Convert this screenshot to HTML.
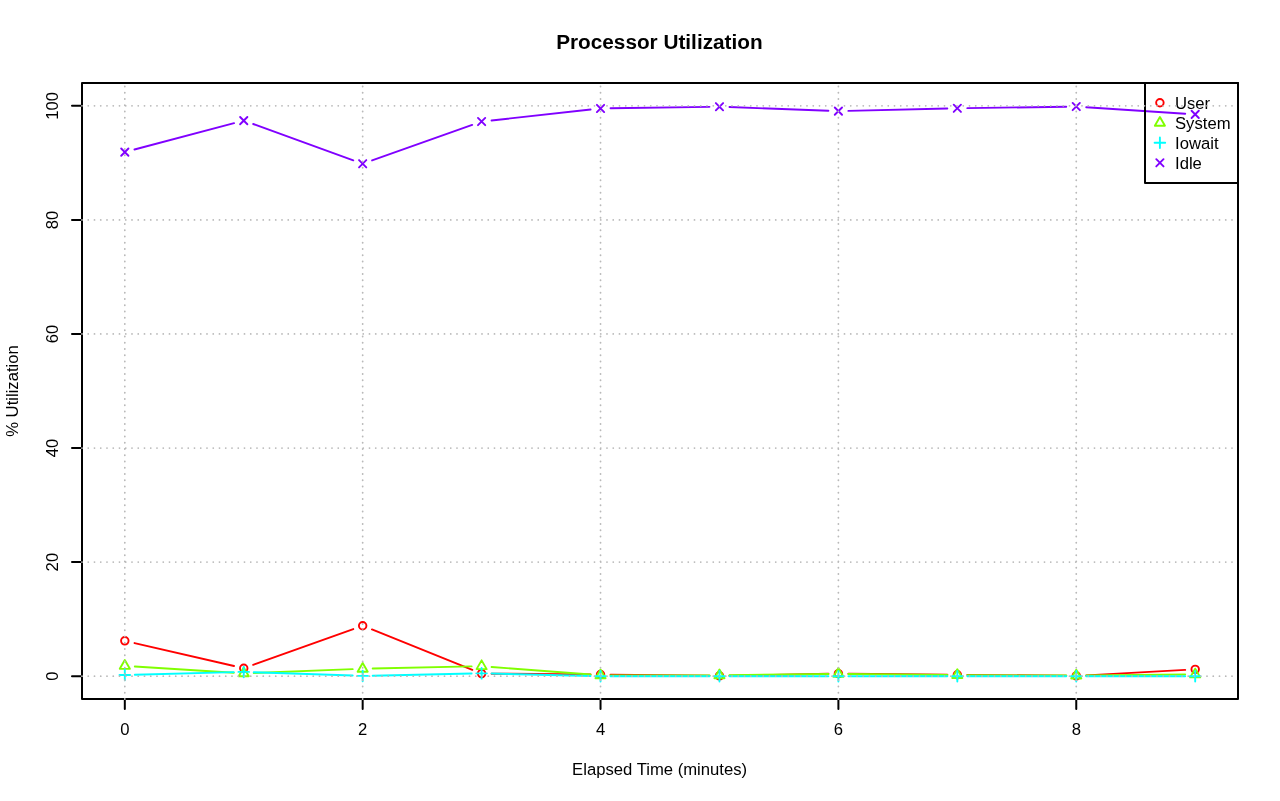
<!DOCTYPE html>
<html><head><meta charset="utf-8"><title>Processor Utilization</title>
<style>
html,body{margin:0;padding:0;background:#fff;}
body{width:1280px;height:801px;overflow:hidden;}
svg{display:block;will-change:transform;font-family:"Liberation Sans",sans-serif;font-size:16.67px;fill:#000;}
</style></head>
<body>
<svg width="1280" height="801" viewBox="0 0 1280 801">
<rect width="1280" height="801" fill="#fff"/>
<rect x="82" y="83" width="1156" height="616" fill="none" stroke="#000" stroke-width="2.0" stroke-linejoin="round"/>
<path d="M82 676.19h-10M82 562.11h-10M82 448.04h-10M82 333.96h-10M82 219.89h-10M82 105.81h-10M124.81 699v10M362.67 699v10M600.53 699v10M838.40 699v10M1076.26 699v10M82 676.19V105.81M124.81 699H1076.26" fill="none" stroke="#000" stroke-width="2.0" stroke-linecap="round"/>
<text x="124.81" y="735.3" text-anchor="middle">0</text>
<text x="362.67" y="735.3" text-anchor="middle">2</text>
<text x="600.53" y="735.3" text-anchor="middle">4</text>
<text x="838.40" y="735.3" text-anchor="middle">6</text>
<text x="1076.26" y="735.3" text-anchor="middle">8</text>
<text transform="translate(58 676.19) rotate(-90)" text-anchor="middle">0</text>
<text transform="translate(58 562.11) rotate(-90)" text-anchor="middle">20</text>
<text transform="translate(58 448.04) rotate(-90)" text-anchor="middle">40</text>
<text transform="translate(58 333.96) rotate(-90)" text-anchor="middle">60</text>
<text transform="translate(58 219.89) rotate(-90)" text-anchor="middle">80</text>
<text transform="translate(58 105.81) rotate(-90)" text-anchor="middle">100</text>
<text x="659.6" y="775" text-anchor="middle">Elapsed Time (minutes)</text>
<text transform="translate(18.3 391) rotate(-90)" text-anchor="middle">% Utilization</text>
<text x="659.4" y="49" text-anchor="middle" font-size="20.75" font-weight="bold">Processor Utilization</text>
<g id="series">
<path d="M134.56 643.07L234.00 665.96M253.16 664.84L353.26 629.07M371.95 629.44L472.33 669.88M491.60 673.69L590.54 674.40M610.53 674.59L709.47 675.78M729.46 675.71L828.40 673.81M848.39 673.71L947.33 674.66M967.32 674.86L1066.26 675.80M1086.24 675.35L1185.20 669.89" fill="none" stroke="#FF0000" stroke-width="1.9" stroke-linecap="round"/>
<circle cx="124.81" cy="640.82" r="3.75" fill="none" stroke="#FF0000" stroke-width="1.9"/>
<circle cx="243.74" cy="668.20" r="3.75" fill="none" stroke="#FF0000" stroke-width="1.9"/>
<circle cx="362.67" cy="625.71" r="3.75" fill="none" stroke="#FF0000" stroke-width="1.9"/>
<circle cx="481.60" cy="673.62" r="3.75" fill="none" stroke="#FF0000" stroke-width="1.9"/>
<circle cx="600.53" cy="674.47" r="3.75" fill="none" stroke="#FF0000" stroke-width="1.9"/>
<circle cx="719.47" cy="675.90" r="3.75" fill="none" stroke="#FF0000" stroke-width="1.9"/>
<circle cx="838.40" cy="673.62" r="3.75" fill="none" stroke="#FF0000" stroke-width="1.9"/>
<circle cx="957.33" cy="674.76" r="3.75" fill="none" stroke="#FF0000" stroke-width="1.9"/>
<circle cx="1076.26" cy="675.90" r="3.75" fill="none" stroke="#FF0000" stroke-width="1.9"/>
<circle cx="1195.19" cy="669.34" r="3.75" fill="none" stroke="#FF0000" stroke-width="1.9"/>
<path d="M134.80 666.54L233.76 672.71M253.74 672.95L352.68 669.15M372.67 668.55L471.61 666.42M491.58 666.97L590.56 674.56M610.53 675.33L709.47 675.33M729.46 675.21L828.40 674.02M848.39 674.00L947.33 674.95M967.32 675.09L1066.26 675.57M1086.25 675.52L1185.19 674.57" fill="none" stroke="#80FF00" stroke-width="1.9" stroke-linecap="round"/>
<path d="M124.81 660.09L129.87 668.83L119.76 668.83Z" fill="none" stroke="#80FF00" stroke-width="1.9" stroke-linejoin="round"/>
<path d="M243.74 667.50L248.80 676.25L238.69 676.25Z" fill="none" stroke="#80FF00" stroke-width="1.9" stroke-linejoin="round"/>
<path d="M362.67 662.94L367.73 671.69L357.62 671.69Z" fill="none" stroke="#80FF00" stroke-width="1.9" stroke-linejoin="round"/>
<path d="M481.60 660.37L486.66 669.12L476.55 669.12Z" fill="none" stroke="#80FF00" stroke-width="1.9" stroke-linejoin="round"/>
<path d="M600.53 669.50L605.59 678.25L595.48 678.25Z" fill="none" stroke="#80FF00" stroke-width="1.9" stroke-linejoin="round"/>
<path d="M719.47 669.50L724.52 678.25L714.41 678.25Z" fill="none" stroke="#80FF00" stroke-width="1.9" stroke-linejoin="round"/>
<path d="M838.40 668.07L843.45 676.82L833.34 676.82Z" fill="none" stroke="#80FF00" stroke-width="1.9" stroke-linejoin="round"/>
<path d="M957.33 669.21L962.38 677.96L952.27 677.96Z" fill="none" stroke="#80FF00" stroke-width="1.9" stroke-linejoin="round"/>
<path d="M1076.26 669.78L1081.31 678.53L1071.20 678.53Z" fill="none" stroke="#80FF00" stroke-width="1.9" stroke-linejoin="round"/>
<path d="M1195.19 668.64L1200.24 677.39L1190.13 677.39Z" fill="none" stroke="#80FF00" stroke-width="1.9" stroke-linejoin="round"/>
<path d="M134.81 674.78L233.75 672.17M253.74 672.24L352.68 675.56M372.67 675.68L471.61 673.55M491.60 673.57L590.54 675.95M610.53 676.19L709.47 676.19M729.47 676.19L828.40 676.19M848.40 676.19L947.33 676.19M967.33 676.19L1066.26 676.19M1086.26 676.19L1185.19 676.19" fill="none" stroke="#00FFFF" stroke-width="1.9" stroke-linecap="round"/>
<path d="M119.51 675.04H130.12M124.81 669.74V680.35" fill="none" stroke="#00FFFF" stroke-width="1.9" stroke-linecap="round"/>
<path d="M238.44 671.91H249.05M243.74 666.60V677.21" fill="none" stroke="#00FFFF" stroke-width="1.9" stroke-linecap="round"/>
<path d="M357.37 675.90H367.98M362.67 670.60V681.20" fill="none" stroke="#00FFFF" stroke-width="1.9" stroke-linecap="round"/>
<path d="M476.30 673.33H486.91M481.60 668.03V678.64" fill="none" stroke="#00FFFF" stroke-width="1.9" stroke-linecap="round"/>
<path d="M595.23 676.19H605.84M600.53 670.88V681.49" fill="none" stroke="#00FFFF" stroke-width="1.9" stroke-linecap="round"/>
<path d="M714.16 676.19H724.77M719.47 670.88V681.49" fill="none" stroke="#00FFFF" stroke-width="1.9" stroke-linecap="round"/>
<path d="M833.09 676.19H843.70M838.40 670.88V681.49" fill="none" stroke="#00FFFF" stroke-width="1.9" stroke-linecap="round"/>
<path d="M952.02 676.19H962.63M957.33 670.88V681.49" fill="none" stroke="#00FFFF" stroke-width="1.9" stroke-linecap="round"/>
<path d="M1070.95 676.19H1081.56M1076.26 670.88V681.49" fill="none" stroke="#00FFFF" stroke-width="1.9" stroke-linecap="round"/>
<path d="M1189.88 676.19H1200.49M1195.19 670.88V681.49" fill="none" stroke="#00FFFF" stroke-width="1.9" stroke-linecap="round"/>
<path d="M134.48 149.54L234.08 123.16M253.15 124.01L353.27 160.34M372.10 160.41L472.18 124.90M491.54 120.46L590.60 109.55M610.53 108.30L709.47 106.85M729.46 107.07L828.40 110.73M848.39 110.86L947.33 108.54M967.32 108.15L1066.26 106.71M1086.23 107.22L1185.21 113.74" fill="none" stroke="#8000FF" stroke-width="1.9" stroke-linecap="round"/>
<path d="M121.18 148.47L128.44 155.73M121.18 155.73L128.44 148.47" fill="none" stroke="#8000FF" stroke-width="1.9" stroke-linecap="round"/>
<path d="M240.11 116.97L247.37 124.23M240.11 124.23L247.37 116.97" fill="none" stroke="#8000FF" stroke-width="1.9" stroke-linecap="round"/>
<path d="M359.04 160.12L366.30 167.38M359.04 167.38L366.30 160.12" fill="none" stroke="#8000FF" stroke-width="1.9" stroke-linecap="round"/>
<path d="M477.97 117.93L485.23 125.19M477.97 125.19L485.23 117.93" fill="none" stroke="#8000FF" stroke-width="1.9" stroke-linecap="round"/>
<path d="M596.90 104.82L604.16 112.08M596.90 112.08L604.16 104.82" fill="none" stroke="#8000FF" stroke-width="1.9" stroke-linecap="round"/>
<path d="M715.84 103.07L723.10 110.33M715.84 110.33L723.10 103.07" fill="none" stroke="#8000FF" stroke-width="1.9" stroke-linecap="round"/>
<path d="M834.77 107.47L842.03 114.73M834.77 114.73L842.03 107.47" fill="none" stroke="#8000FF" stroke-width="1.9" stroke-linecap="round"/>
<path d="M953.70 104.67L960.96 111.93M953.70 111.93L960.96 104.67" fill="none" stroke="#8000FF" stroke-width="1.9" stroke-linecap="round"/>
<path d="M1072.63 102.93L1079.89 110.19M1072.63 110.19L1079.89 102.93" fill="none" stroke="#8000FF" stroke-width="1.9" stroke-linecap="round"/>
<path d="M1191.56 110.77L1198.82 118.03M1191.56 118.03L1198.82 110.77" fill="none" stroke="#8000FF" stroke-width="1.9" stroke-linecap="round"/>
</g>
<rect x="1145" y="83" width="93" height="100" fill="none" stroke="#000" stroke-width="2.0" stroke-linejoin="round"/>
<circle cx="1159.90" cy="102.80" r="3.75" fill="none" stroke="#FF0000" stroke-width="1.9"/>
<text x="1175" y="108.6">User</text>
<path d="M1159.90 116.97L1164.95 125.72L1154.85 125.72Z" fill="none" stroke="#80FF00" stroke-width="1.9" stroke-linejoin="round"/>
<text x="1175" y="128.6">System</text>
<path d="M1154.60 142.80H1165.20M1159.90 137.50V148.10" fill="none" stroke="#00FFFF" stroke-width="1.9" stroke-linecap="round"/>
<text x="1175" y="148.6">Iowait</text>
<path d="M1156.27 159.17L1163.53 166.43M1156.27 166.43L1163.53 159.17" fill="none" stroke="#8000FF" stroke-width="1.9" stroke-linecap="round"/>
<text x="1175" y="168.6">Idle</text>
<path d="M82 676.19H1238M82 562.11H1238M82 448.04H1238M82 333.96H1238M82 219.89H1238M82 105.81H1238M124.81 699V83M362.67 699V83M600.53 699V83M838.40 699V83M1076.26 699V83" fill="none" stroke="#B9B9B9" stroke-width="1.8" stroke-linecap="round" stroke-dasharray="0 6.25"/>
</svg>
</body></html>
